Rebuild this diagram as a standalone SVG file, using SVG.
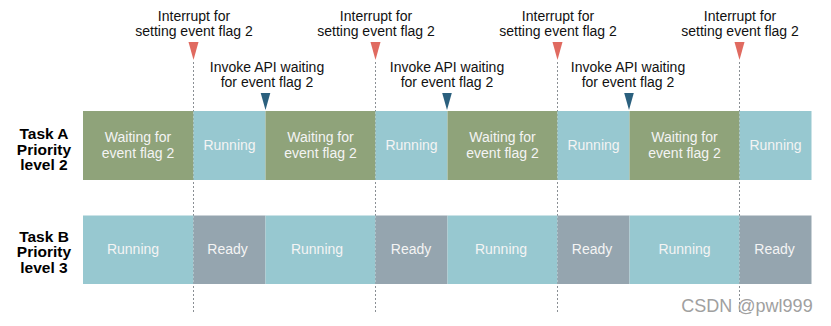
<svg xmlns="http://www.w3.org/2000/svg" width="831" height="326" viewBox="0 0 831 326">
<style>
text{font-family:"Liberation Sans",Arial,sans-serif;font-size:14px;text-anchor:middle}
.lbl{font-weight:bold;font-size:15.5px;fill:#000}
.top{fill:#111}
.in{fill:#F4F4F4}
.w{fill:#8FA37A}
.r{fill:#97C8D0}
.g{fill:#95A5AF}
.dash{stroke:#8A8F94;stroke-width:1;stroke-dasharray:2 2;fill:none}
.red{fill:#E06A60}
.blue{fill:#2B607E}
</style>
<rect width="831" height="326" fill="#fff"/>
<g id="connectors">
<line class="dash" x1="193.5" y1="62" x2="193.5" y2="313"/>
<line class="dash" x1="375.5" y1="62" x2="375.5" y2="313"/>
<line class="dash" x1="557.5" y1="62" x2="557.5" y2="313"/>
<line class="dash" x1="739.5" y1="62" x2="739.5" y2="313"/>
</g>
<g id="labelA"><text class="lbl" x="44" y="139">Task A</text><text class="lbl" x="44" y="154.5">Priority</text><text class="lbl" x="44" y="170">level 2</text></g>
<g id="labelB"><text class="lbl" x="44" y="241.5">Task B</text><text class="lbl" x="44" y="257">Priority</text><text class="lbl" x="44" y="272.5">level 3</text></g>
<g id="taskA">
<g id="a1"><rect class="w" x="83" y="111" width="110.5" height="69"/><text class="in" x="138" y="141.5">Waiting for</text><text class="in" x="138" y="158">event flag 2</text></g>
<g id="a2"><rect class="r" x="193.5" y="111" width="72" height="69"/><text class="in" x="229.5" y="150">Running</text></g>
<g id="a3"><rect class="w" x="265.5" y="111" width="110" height="69"/><text class="in" x="320.5" y="141.5">Waiting for</text><text class="in" x="320.5" y="158">event flag 2</text></g>
<g id="a4"><rect class="r" x="375.5" y="111" width="72" height="69"/><text class="in" x="411.5" y="150">Running</text></g>
<g id="a5"><rect class="w" x="447.5" y="111" width="110" height="69"/><text class="in" x="502.5" y="141.5">Waiting for</text><text class="in" x="502.5" y="158">event flag 2</text></g>
<g id="a6"><rect class="r" x="557.5" y="111" width="72" height="69"/><text class="in" x="593.5" y="150">Running</text></g>
<g id="a7"><rect class="w" x="629.5" y="111" width="110" height="69"/><text class="in" x="684.5" y="141.5">Waiting for</text><text class="in" x="684.5" y="158">event flag 2</text></g>
<g id="a8"><rect class="r" x="739.5" y="111" width="72" height="69"/><text class="in" x="775.5" y="150">Running</text></g>
</g>
<g id="taskB">
<g id="b1"><rect class="r" x="83" y="215.5" width="110.5" height="68.5"/><text class="in" x="133" y="254">Running</text></g>
<g id="b2"><rect class="g" x="193.5" y="215.5" width="72" height="68.5"/><text class="in" x="227.5" y="254">Ready</text></g>
<g id="b3"><rect class="r" x="265.5" y="215.5" width="110" height="68.5"/><text class="in" x="317" y="254">Running</text></g>
<g id="b4"><rect class="g" x="375.5" y="215.5" width="72" height="68.5"/><text class="in" x="411" y="254">Ready</text></g>
<g id="b5"><rect class="r" x="447.5" y="215.5" width="110" height="68.5"/><text class="in" x="501" y="254">Running</text></g>
<g id="b6"><rect class="g" x="557.5" y="215.5" width="72" height="68.5"/><text class="in" x="592" y="254">Ready</text></g>
<g id="b7"><rect class="r" x="629.5" y="215.5" width="110" height="68.5"/><text class="in" x="684.5" y="254">Running</text></g>
<g id="b8"><rect class="g" x="739.5" y="215.5" width="72" height="68.5"/><text class="in" x="774.5" y="254">Ready</text></g>
</g>
<g id="interrupts">
<g id="i1"><text class="top" x="194" y="21">Interrupt for</text><text class="top" x="194" y="35.5">setting event flag 2</text><polygon class="red" points="188.5,42 198.5,42 193.5,60"/></g>
<g id="i2"><text class="top" x="376" y="21">Interrupt for</text><text class="top" x="376" y="35.5">setting event flag 2</text><polygon class="red" points="370.5,42 380.5,42 375.5,60"/></g>
<g id="i3"><text class="top" x="558" y="21">Interrupt for</text><text class="top" x="558" y="35.5">setting event flag 2</text><polygon class="red" points="552.5,42 562.5,42 557.5,60"/></g>
<g id="i4"><text class="top" x="740" y="21">Interrupt for</text><text class="top" x="740" y="35.5">setting event flag 2</text><polygon class="red" points="734.5,42 744.5,42 739.5,60"/></g>
</g>
<g id="invokes">
<g id="v1"><text class="top" x="267" y="72">Invoke API waiting</text><text class="top" x="267" y="87">for event flag 2</text><polygon class="blue" points="260.7,93 270.3,93 265.5,110"/></g>
<g id="v2"><text class="top" x="447" y="72">Invoke API waiting</text><text class="top" x="447" y="87">for event flag 2</text><polygon class="blue" points="442.2,93 451.8,93 447,110"/></g>
<g id="v3"><text class="top" x="628" y="72">Invoke API waiting</text><text class="top" x="628" y="87">for event flag 2</text><polygon class="blue" points="624.2,93 633.8,93 629,110"/></g>
</g>
<text x="747" y="312" style="font-size:18px;fill:#A0A0A0">CSDN @pwl999</text>
</svg>
